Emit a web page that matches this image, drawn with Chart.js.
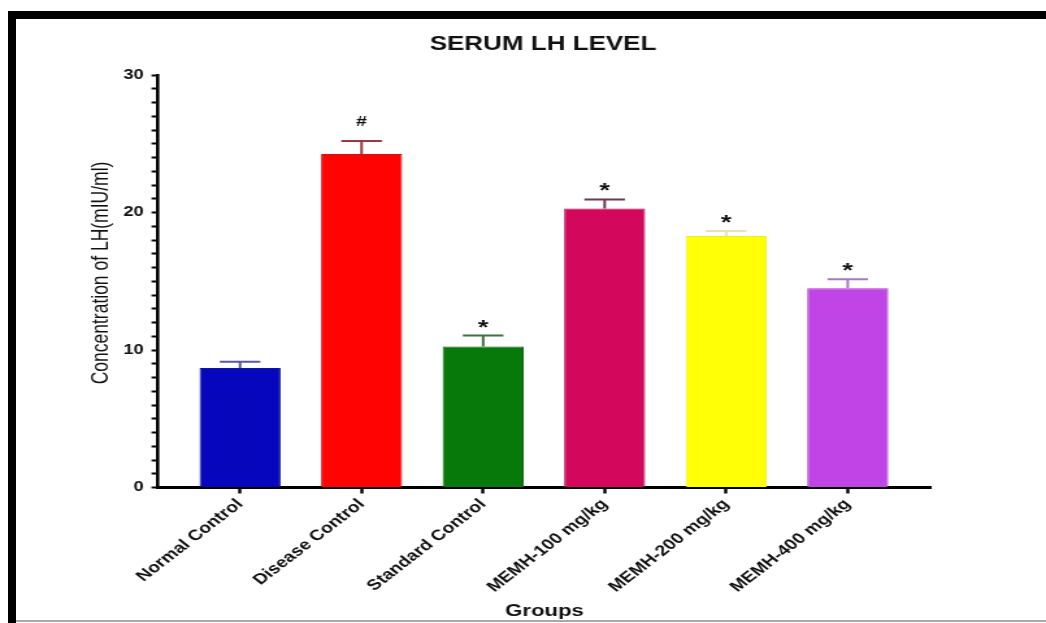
<!DOCTYPE html>
<html>
<head>
<meta charset="utf-8">
<script src="https://cdn.jsdelivr.net/npm/chart.js@4.4.1/dist/chart.umd.min.js"></script>
<style>
  html, body { margin: 0; padding: 0; background: #fff; }
  #wrap { position: relative; width: 1046px; height: 623px; overflow: hidden; background: #fff; }
  #c { position: absolute; left: 0; top: 0; }
  .frame-left { position: absolute; left: 8px; top: 11px; width: 8px; height: 612px; background: #000; }
  .frame-top { position: absolute; left: 8px; top: 11px; width: 1038px; height: 8px; background: #000; }
  .frame-bottom { position: absolute; left: 16px; top: 620px; width: 1030px; height: 2px; background: #a9a9a9; }
</style>
</head>
<body>
<div id="wrap">
  <!-- the canvas is drawn narrower and stretched horizontally to the full width -->
  <canvas id="c" width="805" height="623" style="width:1046px;height:623px"></canvas>
  <div class="frame-left"></div>
  <div class="frame-top"></div>
  <div class="frame-bottom"></div>
</div>
<script>
// Serum LH (mIU/ml) per treatment group, mean and error
const groups = ['Normal Control', 'Disease Control', 'Standard Control', 'MEMH-100 mg/kg', 'MEMH-200 mg/kg', 'MEMH-400 mg/kg'];
const lhMean = [8.7, 24.25, 10.25, 20.3, 18.3, 14.5];
const lhError = [0.45, 0.95, 0.8, 0.65, 0.35, 0.65];
const significance = ['', '#', '*', '*', '*', '*'];
const yMajorTicks = [0, 10, 20, 30];

const barColors = ['#0606BC', '#FF0202', '#07790A', '#D3075C', '#FFFF05', '#C044E6'];
const barEdges = ['#15158A', '#D81010', '#0B650C', '#A8154E', '#F2F010', '#A23CC4'];
const errorColors = ['#5858A0', '#9C3A3A', '#3F6E42', '#6E3650', '#E6E4A8', '#A478C4'];

const canvasW = 805;
const SX = 1046 / canvasW;          // horizontal stretch applied by CSS
const px = v => v / SX;             // screen x -> canvas x

const FONT = '"Liberation Sans", Arial, sans-serif';

const decorations = {
  id: 'decorations',
  afterDatasetsDraw(chart) {
    const { ctx, scales: { x, y } } = chart;
    const meta = chart.getDatasetMeta(0);
    ctx.save();
    lhMean.forEach((m, i) => {
      const bar = meta.data[i];
      const cx = x.getPixelForValue(i);
      const yBar = y.getPixelForValue(m);
      const yTop = y.getPixelForValue(m + lhError[i]);
      const half = bar.width * 0.25;
      ctx.strokeStyle = errorColors[i];
      ctx.lineWidth = 2;
      ctx.beginPath();
      ctx.moveTo(cx, yBar);
      ctx.lineTo(cx, yTop);
      ctx.moveTo(cx - half, yTop);
      ctx.lineTo(cx + half, yTop);
      ctx.stroke();
      if (significance[i]) {
        ctx.fillStyle = '#111';
        ctx.textAlign = 'center';
        ctx.textBaseline = 'alphabetic';
        if (significance[i] === '#') {
          ctx.font = 'bold 15px ' + FONT;
          ctx.fillText('#', cx, yTop - 15);
        } else {
          ctx.font = 'bold 21px ' + FONT;
          ctx.fillText('*', cx, yTop - 2);
        }
      }
    });
    ctx.restore();
  },
  afterDraw(chart) {
    const { ctx, chartArea } = chart;
    ctx.save();
    ctx.fillStyle = '#111';
    ctx.textAlign = 'center';
    ctx.textBaseline = 'alphabetic';
    ctx.font = 'bold 20px ' + FONT;
    ctx.fillText('SERUM LH LEVEL', px(543), 50);
    ctx.font = 'bold 17px ' + FONT;
    ctx.fillText('Groups', (chartArea.left + chartArea.right) / 2, 616);
    ctx.translate(px(101), 273);
    ctx.rotate(-Math.PI / 2);
    ctx.textBaseline = 'middle';
    ctx.font = '17.5px ' + FONT;
    ctx.fillText('Concentration of LH(mIU/ml)', 0, 0);
    ctx.restore();
  }
};

new Chart(document.getElementById('c'), {
  type: 'bar',
  data: {
    datasets: [{
      data: lhMean.map((v, i) => ({ x: i, y: v })),
      backgroundColor: barColors,
      borderColor: barEdges,
      borderWidth: 1,
      barPercentage: 0.667,
      categoryPercentage: 1
    }]
  },
  options: {
    responsive: false,
    animation: false,
    devicePixelRatio: 1,
    layout: { padding: { left: 60, right: canvasW - px(931), top: 75, bottom: 0 } },
    plugins: { legend: { display: false }, tooltip: { enabled: false }, title: { display: false } },
    scales: {
      x: {
        type: 'linear',
        offset: false,
        min: -0.675,
        max: 5.685,
        afterBuildTicks: s => { s.ticks = groups.map((_, i) => ({ value: i })); },
        afterFit: s => { s.height = 623 - 487.5; },
        ticks: {
          autoSkip: false,
          minRotation: 45,
          maxRotation: 45,
          padding: 2,
          color: '#111',
          font: { family: FONT, weight: 'bold', size: 15 },
          callback: v => groups[v]
        },
        grid: { display: true, offset: false, drawOnChartArea: false, drawTicks: true, tickLength: 6, tickWidth: 2.4, tickColor: '#000' },
        border: { display: true, color: '#000', width: 3 }
      },
      y: {
        min: 0,
        max: 30,
        afterFit: s => { s.width = px(158) - 60; },
        ticks: {
          stepSize: 1,
          autoSkip: false,
          padding: 6,
          color: '#111',
          font: { family: FONT, weight: 'bold', size: 14 },
          callback: v => yMajorTicks.includes(v) ? String(v) : ''
        },
        grid: { display: true, drawOnChartArea: false, drawTicks: true, tickLength: 5, tickWidth: 2, tickColor: '#000' },
        border: { display: true, color: '#000', width: 2.6 }
      }
    }
  },
  plugins: [decorations]
});
</script>
</body>
</html>
